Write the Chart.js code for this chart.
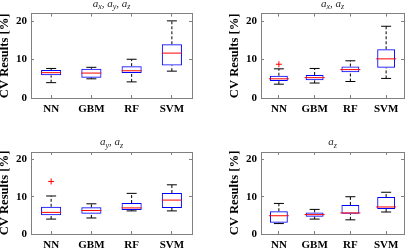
<!DOCTYPE html>
<html>
<head>
<meta charset="utf-8">
<script src="https://cdn.jsdelivr.net/npm/chart.js@4.4.1/dist/chart.umd.min.js"></script>
<style>
  html, body { margin: 0; padding: 0; background: #fff; }
  body { width: 415px; height: 251px; position: relative; overflow: hidden; }
  canvas { position: absolute; }
</style>
</head>
<body>
<canvas id="c0"></canvas>
<canvas id="c1"></canvas>
<canvas id="c2"></canvas>
<canvas id="c3"></canvas>
<script>
const categories = ['NN', 'GBM', 'RF', 'SVM'];
const panelTitles = ['a_x, a_y, a_z', 'a_x, a_z', 'a_y, a_z', 'a_z'];
const yTitle = 'CV Results [%]';
const yTicks = [0, 10, 20];

// a_x, a_y, a_z
const xyzMin = [4.0, 5.0, 4.2, 7.0];
const xyzQ1 = [5.9, 5.3, 6.5, 8.5];
const xyzMed = [6.6, 6.5, 7.1, 11.7];
const xyzQ3 = [7.3, 7.6, 8.3, 14.0];
const xyzMax = [7.7, 8.0, 10.1, 20.1];
const xyzOut = [null, null, null, null];

// a_x, a_z
const xzMin = [3.6, 3.9, 4.3, 5.1];
const xzQ1 = [4.4, 4.6, 6.7, 7.9];
const xzMed = [5.0, 5.3, 7.4, 10.2];
const xzQ3 = [5.8, 6.0, 8.2, 12.7];
const xzMax = [7.6, 7.7, 9.7, 18.7];
const xzOut = [8.8, null, null, null];

// a_y, a_z
const yzMin = [4.0, 4.3, 6.2, 6.2];
const yzQ1 = [5.0, 5.4, 6.45, 7.0];
const yzMed = [5.8, 6.3, 7.0, 9.1];
const yzQ3 = [7.3, 7.15, 8.3, 11.0];
const yzMax = [10.2, 8.1, 10.9, 13.2];
const yzOut = [14.1, null, null, null];

// a_z
const zMin = [2.8, 4.0, 3.8, 5.9];
const zQ1 = [3.0, 4.65, 5.4, 6.7];
const zMed = [4.9, 5.2, 5.65, 7.25];
const zQ3 = [6.1, 5.8, 7.8, 9.9];
const zMax = [8.2, 6.6, 10.0, 11.2];
const zOut = [null, null, null, null];

const panels = [
  { min: xyzMin, q1: xyzQ1, med: xyzMed, q3: xyzQ3, max: xyzMax, out: xyzOut },
  { min: xzMin, q1: xzQ1, med: xzMed, q3: xzQ3, max: xzMax, out: xzOut },
  { min: yzMin, q1: yzQ1, med: yzMed, q3: yzQ3, max: yzMax, out: yzOut },
  { min: zMin, q1: zQ1, med: zMed, q3: zQ3, max: zMax, out: zOut }
];

// canvas placement and axis sizes
const layouts = [
  { left: -8, top: 0, w: 215, h: 125, padTop: 13, padRight: 15, xh: 27 },
  { left: 222, top: 0, w: 193, h: 125, padTop: 13, padRight: 1, xh: 27 },
  { left: -8, top: 125, w: 215, h: 126, padTop: 27, padRight: 15, xh: 17 },
  { left: 222, top: 125, w: 193, h: 126, padTop: 27, padRight: 1, xh: 17 }
];

const gray = '#808080';
Chart.defaults.font.family = '"Liberation Serif", "Times New Roman", serif';

// title with subscripts, e.g. a_x
const subTitle = {
  id: 'subTitle',
  afterDraw(chart, args, opts) {
    const ctx = chart.ctx;
    const area = chart.chartArea;
    const baseFont = 'italic 11px "Liberation Serif"';
    const subFont = 'italic 8px "Liberation Serif"';
    const sepFont = '11px "Liberation Serif"';
    const parts = opts.text.split(', ').map(s => s.split('_'));
    const pieces = [];
    parts.forEach((p, i) => {
      if (i > 0) pieces.push({ t: ', ', f: sepFont, dy: 0 });
      pieces.push({ t: p[0], f: baseFont, dy: 0 });
      if (p[1]) pieces.push({ t: p[1], f: subFont, dy: 2.5 });
    });
    ctx.save();
    let w = 0;
    pieces.forEach(p => { ctx.font = p.f; p.w = ctx.measureText(p.t).width; w += p.w; });
    let x = (area.left + area.right) / 2 - w / 2;
    const y = area.top - 7;
    ctx.fillStyle = '#262626';
    ctx.textBaseline = 'alphabetic';
    ctx.textAlign = 'left';
    pieces.forEach(p => { ctx.font = p.f; ctx.fillText(p.t, x, y + p.dy); x += p.w; });
    ctx.restore();
  }
};

function whiskerPoints(p) {
  const pts = [];
  categories.forEach((c, i) => {
    pts.push({ x: c, y: p.min[i] }, { x: c, y: p.q1[i] }, { x: c, y: null });
    pts.push({ x: c, y: p.q3[i] }, { x: c, y: p.max[i] }, { x: c, y: null });
  });
  return pts;
}

function setTicks(scale) {
  scale.ticks = yTicks.map(v => ({ value: v }));
}

panels.forEach((p, k) => {
  const L = layouts[k];
  const cv = document.getElementById('c' + k);
  cv.width = L.w;
  cv.height = L.h;
  cv.style.left = L.left + 'px';
  cv.style.top = L.top + 'px';

  const gridOpts = { offset: false, drawOnChartArea: false, tickLength: -3, color: gray };

  new Chart(cv, {
    type: 'bar',
    data: {
      labels: categories,
      datasets: [
        {
          type: 'line',
          data: whiskerPoints(p),
          borderColor: '#000',
          borderWidth: 1,
          borderDash: [3, 2],
          pointRadius: 0,
          spanGaps: false,
          order: 5
        },
        {
          type: 'bar',
          data: categories.map((c, i) => [p.q1[i], p.q3[i]]),
          backgroundColor: 'rgba(0,0,0,0)',
          borderColor: '#0000ff',
          borderWidth: 1,
          borderSkipped: false,
          barPercentage: 0.5,
          categoryPercentage: 1,
          grouped: false,
          order: 4
        },
        {
          type: 'line',
          data: p.min,
          showLine: false,
          pointStyle: 'line',
          pointRadius: 5,
          pointBorderColor: '#000',
          pointBorderWidth: 1,
          order: 3
        },
        {
          type: 'line',
          data: p.max,
          showLine: false,
          pointStyle: 'line',
          pointRadius: 5,
          pointBorderColor: '#000',
          pointBorderWidth: 1,
          order: 3
        },
        {
          type: 'line',
          data: p.med,
          showLine: false,
          pointStyle: 'line',
          pointRadius: 10,
          pointBorderColor: '#ff0000',
          pointBorderWidth: 1,
          order: 2
        },
        {
          type: 'line',
          data: p.out,
          showLine: false,
          pointStyle: 'cross',
          pointRadius: 3,
          pointBorderColor: '#ff0000',
          pointBorderWidth: 1,
          order: 1
        }
      ]
    },
    options: {
      responsive: false,
      animation: false,
      layout: { padding: { top: L.padTop, right: L.padRight, left: 0, bottom: 0 } },
      plugins: {
        legend: { display: false },
        tooltip: { enabled: false },
        subTitle: { text: panelTitles[k] }
      },
      scales: {
        x: {
          type: 'category',
          offset: true,
          grid: gridOpts,
          border: { color: gray, width: 1 },
          ticks: { color: '#000', font: { size: 11, weight: 'bold' }, padding: 8, maxRotation: 0, autoSkip: false },
          afterFit: s => { s.height = L.xh; }
        },
        xTop: {
          type: 'category',
          position: 'top',
          offset: true,
          grid: gridOpts,
          border: { color: gray, width: 1 },
          ticks: { display: false },
          afterFit: s => { s.height = 0; }
        },
        y: {
          min: 0,
          max: 22,
          afterBuildTicks: setTicks,
          grid: gridOpts,
          border: { color: gray, width: 1 },
          ticks: { color: '#000', font: { size: 11, weight: 'bold' }, padding: 7 },
          title: {
            display: true,
            text: yTitle,
            color: '#000',
            font: { size: 12.6, weight: 'bold' },
            padding: { top: 5, bottom: 0 }
          },
          afterFit: s => { s.width = 39; }
        },
        yRight: {
          position: 'right',
          min: 0,
          max: 22,
          afterBuildTicks: setTicks,
          grid: gridOpts,
          border: { color: gray, width: 1 },
          ticks: { display: false },
          afterFit: s => { s.width = 0; }
        }
      }
    },
    plugins: [subTitle]
  });
});
</script>
</body>
</html>
